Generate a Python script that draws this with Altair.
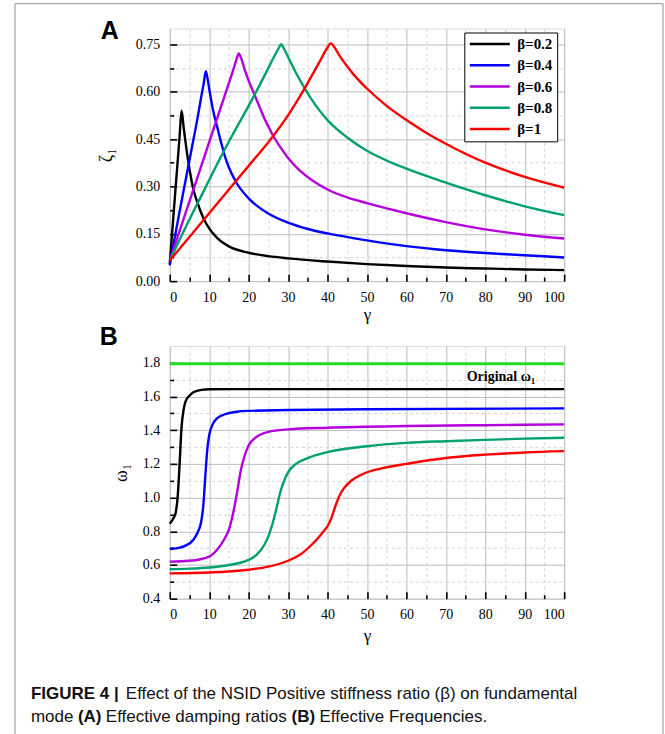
import altair as alt
import pandas as pd

SERIF = "Liberation Serif"
SANS = "Liberation Sans"

SERIES = ["β=0.2", "β=0.4", "β=0.6", "β=0.8", "β=1"]
COLORS = ["#000000", "#0000ff", "#b400dc", "#00a070", "#ff0000"]

# ---------------- Panel A : effective damping ratio zeta_1 vs gamma ----------------
A_G_02 = [0, 0.5, 1, 1.5, 2, 2.5, 3, 3.5, 4, 4.5, 5, 6, 7, 8, 9, 10, 12, 15, 20, 25, 30, 40, 50, 60, 70, 80, 90, 100]
A_Z_02 = [0.055, 0.136, 0.217, 0.298, 0.378, 0.459, 0.54, 0.49, 0.44, 0.395, 0.355, 0.29, 0.25, 0.215, 0.188, 0.167,
          0.137, 0.11, 0.09, 0.079, 0.072, 0.062, 0.054, 0.048, 0.043, 0.040, 0.037, 0.035]

A_G_04 = [0, 1, 2, 3, 4, 5, 6, 7, 8, 8.6, 9.15, 9.6, 10, 11, 12, 13, 14, 15, 17, 20, 25, 30, 35, 40, 50, 60, 70, 80, 90, 100]
A_Z_04 = [0.05, 0.12, 0.187, 0.253, 0.318, 0.383, 0.448, 0.513, 0.585, 0.625, 0.665, 0.64, 0.61, 0.54, 0.49, 0.44,
          0.395, 0.36, 0.31, 0.262, 0.214, 0.185, 0.165, 0.151, 0.129, 0.111, 0.098, 0.089, 0.082, 0.075]

A_G_06 = [0, 2, 4, 6, 8, 10, 12, 14, 16, 17, 17.5, 18, 19, 20, 21, 22, 23, 24, 25, 26, 28, 30, 33, 36, 40, 45, 50,
          60, 70, 80, 90, 100]
A_Z_06 = [0.065, 0.14, 0.215, 0.29, 0.365, 0.44, 0.515, 0.59, 0.665, 0.705, 0.721, 0.71, 0.67, 0.635, 0.605, 0.575,
          0.545, 0.515, 0.49, 0.465, 0.425, 0.39, 0.35, 0.32, 0.29, 0.265, 0.247, 0.215, 0.187, 0.164, 0.147, 0.135]

A_G_08 = [0, 4, 8, 10, 12, 16, 20, 24, 26, 27.5, 28.3, 29, 30, 32, 34, 36, 38, 40, 45, 50, 55, 60, 70, 80, 90, 100]
A_Z_08 = [0.065, 0.17, 0.27, 0.32, 0.37, 0.465, 0.555, 0.65, 0.70, 0.735, 0.75, 0.735, 0.71, 0.66, 0.615, 0.575,
          0.54, 0.51, 0.455, 0.413, 0.382, 0.356, 0.312, 0.272, 0.237, 0.209]

A_G_10 = [0, 5, 10, 15, 20, 25, 30, 33, 36, 38, 40, 40.8, 41.5, 43, 45, 48, 50, 55, 60, 65, 70, 80, 90, 100]
A_Z_10 = [0.065, 0.14, 0.215, 0.29, 0.365, 0.44, 0.525, 0.585, 0.65, 0.695, 0.74, 0.753, 0.745, 0.715, 0.68, 0.635,
          0.61, 0.555, 0.51, 0.47, 0.435, 0.375, 0.33, 0.296]

# ---------------- Panel B : effective frequency omega_1 vs gamma ----------------
B_G_02 = [0, 1, 1.5, 2, 2.5, 3, 3.5, 4, 5, 6, 8, 10, 20, 40, 60, 80, 100]
B_W_02 = [0.845, 0.88, 0.91, 1.0, 1.2, 1.42, 1.52, 1.57, 1.605, 1.625, 1.64, 1.643, 1.644, 1.644, 1.644, 1.644, 1.644]

B_G_04 = [0, 2, 4, 6, 7, 8, 8.5, 9, 9.5, 10, 11, 12, 14, 17, 20, 30, 50, 100]
B_W_04 = [0.695, 0.70, 0.715, 0.75, 0.79, 0.86, 0.95, 1.12, 1.28, 1.37, 1.44, 1.47, 1.495, 1.51, 1.515, 1.52, 1.525, 1.53]

B_G_06 = [0, 5, 10, 12, 14, 15, 16, 17, 18, 19, 20, 22, 25, 30, 40, 60, 80, 100]
B_W_06 = [0.62, 0.625, 0.65, 0.69, 0.76, 0.81, 0.9, 1.02, 1.16, 1.25, 1.31, 1.36, 1.39, 1.405, 1.415, 1.425, 1.43, 1.435]

B_G_08 = [0, 5, 10, 15, 20, 22, 24, 25, 26, 27, 28, 29, 30, 32, 35, 40, 50, 60, 70, 80, 90, 100]
B_W_08 = [0.575, 0.578, 0.585, 0.6, 0.63, 0.66, 0.72, 0.77, 0.84, 0.93, 1.03, 1.1, 1.15, 1.2, 1.235, 1.27, 1.305,
          1.325, 1.335, 1.343, 1.35, 1.355]

B_G_10 = [0, 10, 20, 25, 30, 33, 36, 38, 39, 40, 41, 42, 43, 44, 46, 48, 50, 55, 60, 70, 80, 90, 100]
B_W_10 = [0.55, 0.555, 0.572, 0.59, 0.625, 0.66, 0.72, 0.77, 0.8, 0.83, 0.88, 0.95, 1.01, 1.05, 1.1, 1.13, 1.15, 1.18,
          1.2, 1.235, 1.255, 1.268, 1.276]

ORIGINAL_OMEGA = 1.795
ORIGINAL_LABEL = "Original ω₁"
ORIGINAL_LABEL_POS = (75.3, 1.717)

X_TICKS = [0, 5, 10, 15, 20, 25, 30, 35, 40, 45, 50, 55, 60, 65, 70, 75, 80, 85, 90, 95, 100]
YA_TICKS = [0, 0.075, 0.15, 0.225, 0.3, 0.375, 0.45, 0.525, 0.6, 0.675, 0.75]
YB_TICKS = [0.4, 0.5, 0.6, 0.7, 0.8, 0.9, 1.0, 1.1, 1.2, 1.3, 1.4, 1.5, 1.6, 1.7, 1.8]

CAPTION_1 = [("FIGURE 4 |", True), ("Effect of the NSID Positive stiffness ratio (β) on fundamental", False)]
CAPTION_1_X = [-139, -44]
CAPTION_2 = [("mode", False), ("(A)", True), ("Effective damping ratios", False), ("(B)", True),
             ("Effective Frequencies.", False)]
CAPTION_2_X = [-139, -92, -64, 122, 150]


def long_df(pairs, yname):
    rows = []
    for name, gs, vs in pairs:
        for g, v in zip(gs, vs):
            rows.append({"series": name, "gamma": g, yname: v})
    return pd.DataFrame(rows)


df_a = long_df([(SERIES[0], A_G_02, A_Z_02), (SERIES[1], A_G_04, A_Z_04), (SERIES[2], A_G_06, A_Z_06),
                (SERIES[3], A_G_08, A_Z_08), (SERIES[4], A_G_10, A_Z_10)], "zeta")
df_b = long_df([(SERIES[0], B_G_02, B_W_02), (SERIES[1], B_G_04, B_W_04), (SERIES[2], B_G_06, B_W_06),
                (SERIES[3], B_G_08, B_W_08), (SERIES[4], B_G_10, B_W_10)], "omega")

W, H = 395, 253
GRID_MAJOR = "#bdbdbd"
GRID_MINOR = "#d4d4d4"

x_scale = alt.Scale(domain=[0, 100], nice=False, zero=False)
color_scale = alt.Scale(domain=SERIES, range=COLORS)

X_MAJOR = "datum.value % 10 === 0"


def ymajor(step):
    return f"abs(datum.value/{step} - round(datum.value/{step})) < 0.001"


def x_label_axis(title_pad):
    return alt.Axis(orient="bottom", values=X_TICKS, labelExpr=f"{X_MAJOR} ? datum.label : ''",
                    grid=True,
                    gridColor={"condition": {"test": X_MAJOR, "value": GRID_MAJOR}, "value": GRID_MINOR},
                    gridDash={"condition": {"test": X_MAJOR, "value": []}, "value": [3, 3]},
                    gridWidth=1, ticks=False, tickSize=0, domain=False,
                    labelFont=SERIF, labelFontSize=14, labelColor="black", labelPadding=9,
                    title="γ", titleFont=SERIF, titleFontSize=17, titleFontWeight="normal",
                    titleColor="black", titlePadding=title_pad)


def x_tick_axis():
    return alt.Axis(orient="top", offset=-H, values=X_TICKS, labels=False, domain=False, grid=False,
                    ticks=True, tickColor="black", tickWidth=1.6,
                    tickSize={"condition": {"test": X_MAJOR, "value": 7}, "value": 4}, title=None)


def y_label_axis(ticks, step, fmt, title, title_pad):
    return alt.Axis(orient="left", values=ticks,
                    labelExpr=f"{ymajor(step)} ? format(datum.value, '{fmt}') : ''",
                    grid=True,
                    gridColor={"condition": {"test": ymajor(step), "value": GRID_MAJOR}, "value": GRID_MINOR},
                    gridDash={"condition": {"test": ymajor(step), "value": []}, "value": [3, 3]},
                    gridWidth=1, ticks=False, tickSize=0, domain=False,
                    labelFont=SERIF, labelFontSize=14, labelColor="black", labelPadding=10,
                    title=title, titleFont=SERIF, titleFontSize=18, titleFontWeight="normal",
                    titleColor="black", titlePadding=title_pad)


def y_tick_axis(ticks, step):
    return alt.Axis(orient="right", offset=-W, values=ticks, labels=False, domain=False, grid=False,
                    ticks=True, tickColor="black", tickWidth=1.6,
                    tickSize={"condition": {"test": ymajor(step), "value": 7}, "value": 4}, title=None)


one = alt.Data(values=[{}])

# ---------- Panel A ----------
ya_scale = alt.Scale(domain=[0, 0.8], nice=False, zero=False)
lines_a = alt.Chart(df_a).mark_line(strokeWidth=2.4, interpolate="monotone").encode(
    x=alt.X("gamma:Q", scale=x_scale, axis=x_label_axis(2)),
    y=alt.Y("zeta:Q", scale=ya_scale, axis=y_label_axis(YA_TICKS, 0.15, ".2f", "ζ₁", 20)),
    color=alt.Color("series:N", scale=color_scale, sort=SERIES,
                    legend=alt.Legend(title=None, orient="none", legendX=295, legendY=4,
                                      symbolType="M-4,0H4", symbolSize=100, symbolStrokeWidth=2.5,
                                      symbolOffset=14, labelOffset=20,
                                      labelFont=SERIF, labelFontSize=15, labelFontWeight="bold",
                                      labelColor="black", strokeColor="black", fillColor="white",
                                      padding=4, rowPadding=5.3)),
    order=alt.Order("gamma:Q"),
)
ticks_a = alt.Chart(df_a).mark_line(strokeOpacity=0).encode(
    x=alt.X("gamma:Q", scale=x_scale, axis=x_tick_axis()),
    y=alt.Y("zeta:Q", scale=ya_scale, axis=y_tick_axis(YA_TICKS, 0.15)),
    detail="series:N",
)
frame_left = alt.Chart(one).mark_rule(color="#a8a8a8", strokeWidth=1.3).encode(
    x=alt.value(-155), y=alt.value(-25), y2=alt.value(708))
frame_right = alt.Chart(one).mark_rule(color="#a8a8a8", strokeWidth=1.3).encode(
    x=alt.value(494), y=alt.value(-25), y2=alt.value(708))
frame_top = alt.Chart(one).mark_rule(color="#a8a8a8", strokeWidth=1.3).encode(
    x=alt.value(-155), x2=alt.value(494), y=alt.value(-25))
label_a = alt.Chart(one).mark_text(font=SANS, fontSize=25, fontWeight="bold", align="left",
                                   baseline="alphabetic", color="black").encode(
    x=alt.value(-69), y=alt.value(11), text=alt.value("A"))

panel_a = alt.layer(ticks_a, lines_a, frame_left, frame_right, frame_top, label_a).resolve_axis(
    x="independent", y="independent").properties(width=W, height=H)

# ---------- Panel B ----------
yb_scale = alt.Scale(domain=[0.4, 1.9], nice=False, zero=False)
lines_b = alt.Chart(df_b).mark_line(strokeWidth=2.4, interpolate="monotone").encode(
    x=alt.X("gamma:Q", scale=x_scale, axis=x_label_axis(6)),
    y=alt.Y("omega:Q", scale=yb_scale, axis=y_label_axis(YB_TICKS, 0.2, ".1f", "ω₁", 12)),
    color=alt.Color("series:N", scale=color_scale, sort=SERIES, legend=None),
    order=alt.Order("gamma:Q"),
)
ticks_b = alt.Chart(df_b).mark_line(strokeOpacity=0).encode(
    x=alt.X("gamma:Q", scale=x_scale, axis=x_tick_axis()),
    y=alt.Y("omega:Q", scale=yb_scale, axis=y_tick_axis(YB_TICKS, 0.2)),
    detail="series:N",
)
orig_line = alt.Chart(pd.DataFrame({"omega": [ORIGINAL_OMEGA]})).mark_rule(
    color="#22dd22", strokeWidth=3).encode(y=alt.Y("omega:Q", scale=yb_scale, axis=None))
orig_text = alt.Chart(pd.DataFrame({"gamma": [ORIGINAL_LABEL_POS[0]], "omega": [ORIGINAL_LABEL_POS[1]],
                                    "t": [ORIGINAL_LABEL]})).mark_text(
    font=SERIF, fontSize=14, fontWeight="bold", align="left", baseline="middle", color="black").encode(
    x=alt.X("gamma:Q", scale=x_scale, axis=None), y=alt.Y("omega:Q", scale=yb_scale, axis=None), text="t:N")
label_b = alt.Chart(one).mark_text(font=SANS, fontSize=25, fontWeight="bold", align="left",
                                   baseline="alphabetic", color="black").encode(
    x=alt.value(-70), y=alt.value(-1), text=alt.value("B"))

caption_layers = []
for line_items, xs, yy in [(CAPTION_1, CAPTION_1_X, 353), (CAPTION_2, CAPTION_2_X, 377)]:
    for (txt, bold), xx in zip(line_items, xs):
        caption_layers.append(
            alt.Chart(one).mark_text(font=SANS, fontSize=17, fontWeight="bold" if bold else "normal",
                                     align="left", baseline="alphabetic", color="#111111").encode(
                x=alt.value(xx), y=alt.value(yy), text=alt.value(txt)))

panel_b = alt.layer(ticks_b, lines_b, orig_line, orig_text, label_b, *caption_layers).resolve_axis(
    x="independent", y="independent").properties(width=W, height=H)

chart = alt.vconcat(panel_a, panel_b, spacing=65, bounds="flush").resolve_scale(
    color="independent").configure_view(stroke="black", strokeWidth=2).configure_legend(
    strokeWidth=1.5).configure(background="white").properties(
    padding={"left": 13, "top": 1, "right": 0, "bottom": 0})

chart.save("out.html", embed_options={"renderer": "svg", "actions": False})
